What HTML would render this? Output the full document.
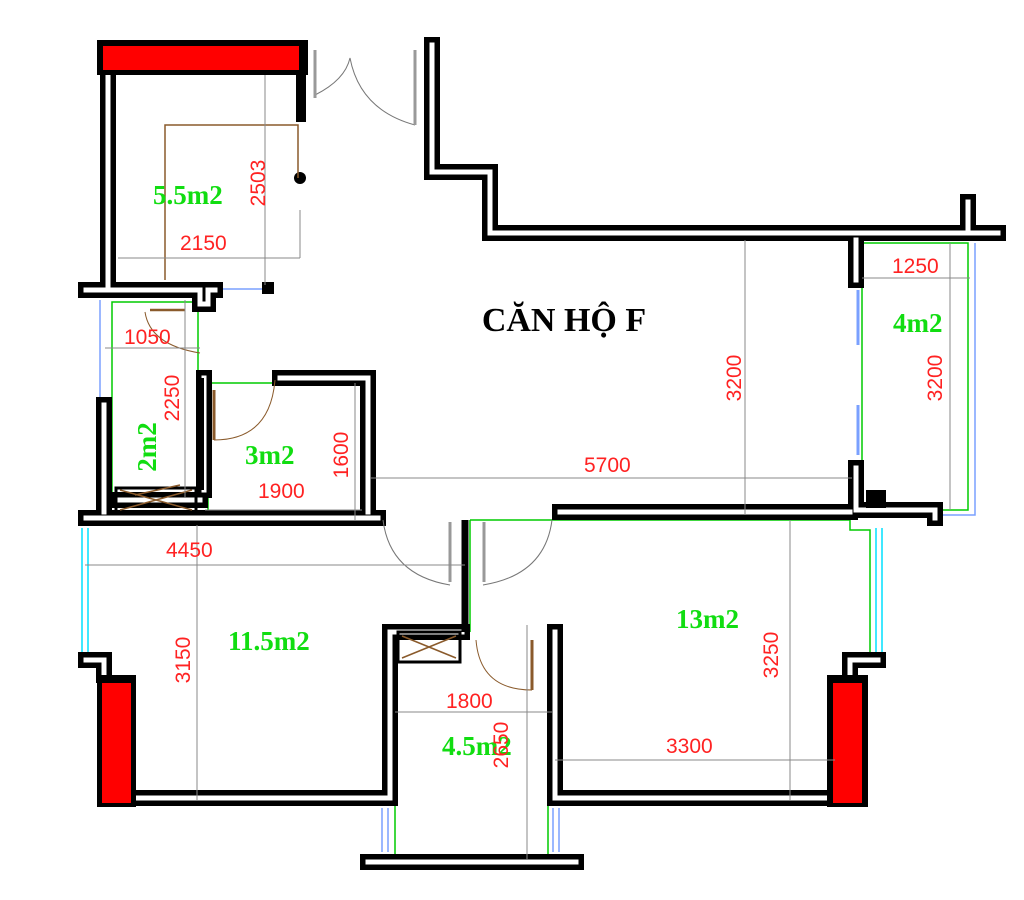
<!DOCTYPE html>
<html><head><meta charset="utf-8"><style>
html,body{margin:0;padding:0;background:#fff;width:1024px;height:900px;overflow:hidden}
svg{display:block}
.w{fill:none;stroke:#000;stroke-width:16;stroke-linecap:square;stroke-linejoin:miter}
.wi{fill:none;stroke:#fff;stroke-width:5;stroke-linecap:square;stroke-linejoin:miter}
.d{stroke:#888;stroke-width:1;fill:none}
.g{stroke:#0c0;stroke-width:1.5;fill:none}
.b{stroke:#7aa0ff;stroke-width:1.5;fill:none}
.c{stroke:#00e0ff;stroke-width:1.5;fill:none}
.dr{stroke:#777;stroke-width:1;fill:none}
.br{stroke:#8a5a2b;stroke-width:1.5;fill:none}
.t{font-family:"Liberation Sans",sans-serif;font-size:21px;fill:#f22}
.a{font-family:"Liberation Serif",serif;font-weight:bold;font-size:27px;fill:#1d1}
</style></head><body>
<svg width="1024" height="900" viewBox="0 0 1024 900" xmlns="http://www.w3.org/2000/svg">
<defs>
<g id="walls">
<path d="M108 75 L108 285"/>
<path d="M86 290 L200 290 L200 304 L208 304 L208 290 L215 290"/>
<path d="M432 45 L432 172 L490 172 L490 233 L998 233"/>
<path d="M968 233 L968 202"/>
<path d="M856 240 L856 280"/>
<path d="M856 468 L856 510 L935 510 L935 518"/>
<path d="M560 512 L850 512"/>
<path d="M86 518 L378 518"/>
<path d="M280 378 L368 378 L368 512"/>
<path d="M204 378 L204 490"/>
<path d="M104 405 L104 512"/>
<path d="M86 660 L104 660 L104 675"/>
<path d="M106 798 L390 798 L390 632 L462 632"/>
<path d="M555 632 L555 798 L840 798"/>
<path d="M850 675 L850 660 L878 660"/>
<path d="M368 862 L576 862"/>
<path d="M118 500 L200 500"/>
</g>
</defs>
<rect x="112" y="302" width="86" height="198" class="g"/>
<rect x="208" y="383" width="154" height="132" class="g"/>
<rect x="862" y="243" width="106" height="267" class="g"/>
<path d="M470 520 L850 520 L850 530 L870 530 L870 660" class="g"/>
<path d="M110 525 L380 525" class="g"/>
<path d="M115 680 L115 792 L384 792 L384 638 L462 638" class="g"/>
<path d="M548 638 L548 792 L830 792" class="g"/>
<path d="M395 800 L395 858 L548 858 L548 800" class="g"/>
<path d="M470 520 L470 632" class="g"/>
<path d="M100 300 L100 400" class="b"/>
<path d="M220 289 L265 289" class="b"/>
<path d="M975 243 L975 515 L935 515" class="b"/>
<path d="M858 290 L858 345 M858 405 L858 455" class="b" style="stroke-width:3"/>
<path d="M82 528 L82 655 M88 528 L88 655" class="c"/>
<path d="M876 528 L876 655 M882 528 L882 655" class="c"/>
<path d="M382 808 L382 852 M388 808 L388 852 M553 808 L553 852 M559 808 L559 852" class="b"/>
<g class="w"><use href="#walls"/></g>
<g class="wi"><use href="#walls"/></g>
<path d="M465 520 L465 632" stroke="#000" stroke-width="7"/>
<path d="M202 378 L202 490" stroke="#000" stroke-width="4"/>
<rect x="97" y="40" width="211" height="35" fill="#000"/>
<rect x="103" y="46" width="196" height="24" fill="#f00"/>
<rect x="296" y="72" width="10" height="50" fill="#000"/>
<rect x="97" y="675" width="39" height="132" fill="#000"/>
<rect x="102" y="683" width="29" height="120" fill="#f00"/>
<rect x="827" y="675" width="41" height="132" fill="#000"/>
<rect x="833" y="683" width="29" height="120" fill="#f00"/>
<circle cx="300" cy="178" r="6" fill="#000"/>
<rect x="262" y="282" width="12" height="12" fill="#000"/>
<rect x="866" y="490" width="20" height="18" fill="#000"/>
<rect x="116" y="488" width="80" height="24" fill="none" stroke="#000" stroke-width="3"/>
<path d="M120 490 L192 510 M120 510 L192 490" class="br"/>
<rect x="398" y="632" width="62" height="30" fill="none" stroke="#000" stroke-width="3"/>
<path d="M402 636 L456 658 M402 658 L456 636" class="br"/>
<path d="M165 280 L165 125 L298 125 L298 178" class="br"/>
<path d="M150 310 L185 310" class="br" style="stroke-width:2.5"/>
<path d="M214 390 L214 440" class="br" style="stroke-width:3"/>
<path d="M532 640 L532 690" class="br" style="stroke-width:3"/>
<path d="M315 95 Q345 80 350 58 Q360 110 415 125" class="dr"/>
<path d="M315 50 L315 98 M415 50 L415 125" stroke="#999" stroke-width="3" fill="none"/>
<path d="M145 312 Q150 345 200 353" class="br" style="stroke-width:1"/>
<path d="M214 440 Q270 440 275 380" class="br" style="stroke-width:1"/>
<path d="M476 640 Q480 690 532 690" class="br" style="stroke-width:1"/>
<path d="M383 520 Q390 575 450 585" class="dr"/>
<path d="M552 520 Q545 575 483 585" class="dr"/>
<path d="M450 522 L450 582 M484 522 L484 582" stroke="#999" stroke-width="3" fill="none"/>
<path d="M135 495 L180 485" class="br"/>
<g class="d">
<path d="M265 75 L265 285"/><path d="M118 258 L300 258"/><path d="M300 210 L300 258"/>
<path d="M105 348 L200 348"/><path d="M185 300 L185 498"/>
<path d="M355 383 L355 520"/><path d="M370 478 L852 478"/><path d="M205 510 L362 510"/>
<path d="M745 240 L745 515"/><path d="M862 278 L970 278"/><path d="M950 243 L950 510"/>
<path d="M85 565 L465 565"/><path d="M197 525 L197 800"/><path d="M790 520 L790 800"/>
<path d="M395 712 L552 712"/><path d="M527 625 L527 860"/><path d="M555 760 L835 760"/>
</g>
<text class="a" x="153" y="204">5.5m2</text>
<text class="t" x="180" y="250">2150</text>
<text class="t" transform="translate(265,183) rotate(-90)" text-anchor="middle">2503</text>
<text class="t" x="124" y="344">1050</text>
<text class="t" transform="translate(179,398) rotate(-90)" text-anchor="middle">2250</text>
<text class="a" transform="translate(156,447) rotate(-90)" text-anchor="middle">2m2</text>
<text class="a" x="245" y="464">3m2</text>
<text class="t" transform="translate(348,455) rotate(-90)" text-anchor="middle">1600</text>
<text class="t" x="258" y="498">1900</text>
<text class="t" x="584" y="472">5700</text>
<text class="t" transform="translate(741,378) rotate(-90)" text-anchor="middle">3200</text>
<text class="t" x="892" y="273">1250</text>
<text class="a" x="893" y="332">4m2</text>
<text class="t" transform="translate(942,378) rotate(-90)" text-anchor="middle">3200</text>
<text x="564" y="331" text-anchor="middle" style="font-family:'Liberation Serif',serif;font-weight:bold;font-size:34px;fill:#000">CĂN HỘ F</text>
<text class="t" x="166" y="557">4450</text>
<text class="t" transform="translate(190,660) rotate(-90)" text-anchor="middle">3150</text>
<text class="a" x="228" y="650">11.5m2</text>
<text class="a" x="676" y="628">13m2</text>
<text class="t" transform="translate(778,655) rotate(-90)" text-anchor="middle">3250</text>
<text class="t" x="446" y="708">1800</text>
<text class="a" x="442" y="755">4.5m2</text>
<text class="t" transform="translate(508,745) rotate(-90)" text-anchor="middle">2650</text>
<text class="t" x="666" y="753">3300</text>
</svg>
</body></html>
